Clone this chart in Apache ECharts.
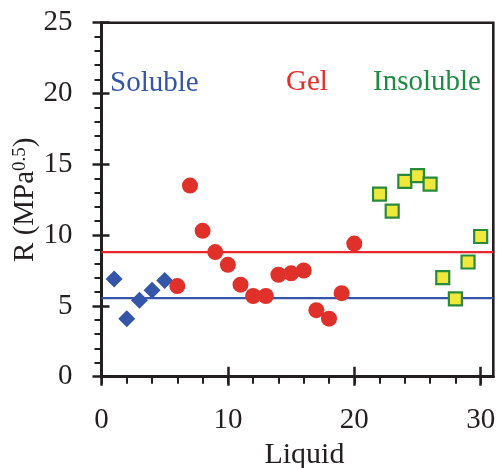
<!DOCTYPE html>
<html>
<head>
<meta charset="utf-8">
<script src="https://cdn.jsdelivr.net/npm/echarts@6/dist/echarts.min.js"></script>
<style>
html, body { margin: 0; padding: 0; background: #fff; }
#chart { width: 497px; height: 468px; }
</style>
</head>
<body>
<div id="chart"></div>
<script>
// data
var solubleX = [1, 2, 3, 4, 5];
var solubleR = [6.9, 4.1, 5.4, 6.1, 6.8];
var gelX = [6, 7, 8, 9, 10, 11, 12, 13, 14, 15, 16, 17, 18, 19, 20];
var gelR = [6.4, 13.5, 10.3, 8.8, 7.9, 6.5, 5.7, 5.7, 7.2, 7.3, 7.5, 4.7, 4.1, 5.9, 9.4];
var insolX = [22, 23, 24, 25, 26, 27, 28, 29, 30];
var insolR = [12.9, 11.7, 13.8, 14.2, 13.6, 7.0, 5.5, 8.1, 9.9];
var solubleLimit = 5.55;
var gelLimit = 8.8;
var xMajor = [0, 10, 20, 30];
var xMinor = [0, 2, 4, 6, 8, 10, 12, 14, 16, 18, 20, 22, 24, 26, 28, 30];
var xMin = 0, xMax = 31;

var ink = '#231f20';
var serif = "'Liberation Serif', 'Times New Roman', Times, Tinos, serif";
var blue = '#3556a8';
var red = '#e0302a';
var green = '#1f8a44';

function pairs(xs, ys) {
	var out = [];
	for (var i = 0; i < xs.length; i++) out.push([xs[i], ys[i]]);
	return out;
}

function xAxisBase(extra) {
	var a = {
		type: 'value', position: 'bottom', min: xMin, max: xMax,
		axisLine: { show: false },
		axisLabel: { show: false },
		splitLine: { show: false }
	};
	for (var k in extra) a[k] = extra[k];
	return a;
}

var chart = echarts.init(document.getElementById('chart'));
chart.setOption({
	animation: false,
	textStyle: { fontFamily: serif },
	grid: {
		left: 101.5, right: 3.7, top: 22.7, bottom: 91.3,
		outerBoundsMode: 'none', containLabel: false,
		show: true, borderColor: ink, borderWidth: 2.6, backgroundColor: 'transparent'
	},
	xAxis: [
		xAxisBase({
			axisLine: { show: true, onZero: false, lineStyle: { color: ink, width: 3 } },
			axisTick: { customValues: xMajor, length: 9, lineStyle: { color: ink, width: 2.5 } },
			axisLabel: { customValues: xMajor, margin: 29, fontSize: 29, fontFamily: serif, color: ink },
			name: 'Liquid', nameLocation: 'middle', nameGap: 63, nameMoveOverlap: false,
			nameTextStyle: { fontSize: 30, fontFamily: serif, color: ink, padding: [0, 0, 0, 14] }
		}),
		xAxisBase({
			axisTick: { customValues: xMinor, length: 7, lineStyle: { color: ink, width: 2 } }
		}),
		xAxisBase({
			axisTick: { customValues: xMajor, inside: true, length: 10, lineStyle: { color: ink, width: 2.5 } }
		})
	],
	yAxis: [
		{
			type: 'value', position: 'left', min: 0, max: 25, interval: 5,
			axisLine: { show: true, onZero: false, lineStyle: { color: ink, width: 3 } },
			axisTick: { length: 9, lineStyle: { color: ink, width: 2.5 } },
			minorTick: { show: true, splitNumber: 5, length: 7, lineStyle: { color: ink, width: 2 } },
			axisLabel: { margin: 29, fontSize: 29, fontFamily: serif, color: ink, padding: [5, 0, 0, 0] },
			splitLine: { show: false },
			name: '{n|R (MPa}{s|0.5}{n|)}', nameLocation: 'middle', nameGap: 62, nameMoveOverlap: false,
			nameTextStyle: {
				fontFamily: serif, color: ink,
				rich: {
					n: { fontSize: 29, fontFamily: serif, color: ink },
					s: { fontSize: 19, fontFamily: serif, color: ink, verticalAlign: 'top' }
				}
			}
		},
		{
			type: 'value', position: 'left', min: 0, max: 25, interval: 5,
			axisLine: { show: false },
			axisTick: { inside: true, length: 8, lineStyle: { color: ink, width: 2.5 } },
			axisLabel: { show: false },
			splitLine: { show: false }
		}
	],
	graphic: [
		{ type: 'text', left: 110, top: 69, style: { text: 'Soluble', fill: blue, fontSize: 29, fontFamily: serif } },
		{ type: 'text', left: 286, top: 68, style: { text: 'Gel', fill: red, fontSize: 29, fontFamily: serif } },
		{ type: 'text', left: 373, top: 68, style: { text: 'Insoluble', fill: green, fontSize: 29, fontFamily: serif } }
	],
	series: [
		{
			type: 'line', z: 1, showSymbol: false, silent: true,
			data: [[xMin, solubleLimit], [xMax, solubleLimit]],
			lineStyle: { color: blue, width: 2.2 }
		},
		{
			type: 'line', z: 1, showSymbol: false, silent: true,
			data: [[xMin, gelLimit], [xMax, gelLimit]],
			lineStyle: { color: '#e8262b', width: 2.4 }
		},
		{
			type: 'scatter', z: 3, symbol: 'diamond', symbolSize: 17,
			data: pairs(solubleX, solubleR),
			itemStyle: { color: blue, opacity: 1 }
		},
		{
			type: 'scatter', z: 4, symbol: 'circle', symbolSize: 16,
			data: pairs(gelX, gelR),
			itemStyle: { color: red, opacity: 1 }
		},
		{
			type: 'scatter', z: 3, symbol: 'rect', symbolSize: 13,
			data: pairs(insolX, insolR),
			itemStyle: { color: '#f1e83c', borderColor: '#2a8a3c', borderWidth: 2.2, opacity: 1 }
		}
	]
});
</script>
</body>
</html>
